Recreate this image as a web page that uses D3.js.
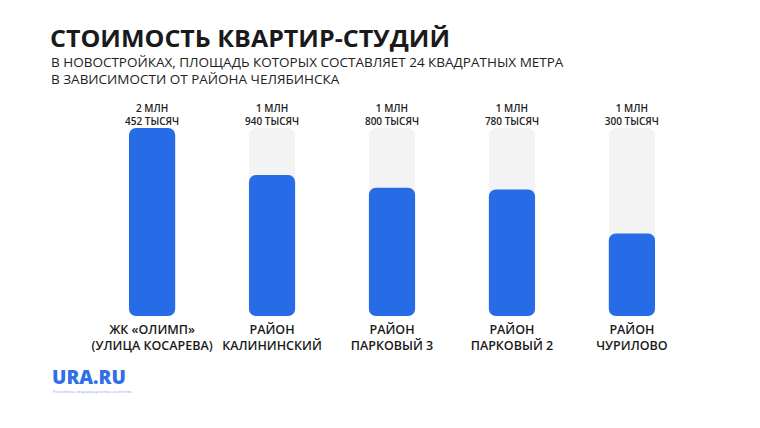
<!DOCTYPE html>
<html><head><meta charset="utf-8">
<script src="https://cdn.jsdelivr.net/npm/d3@7"></script>
<style>body{margin:0;background:#fff}svg{display:block}</style>
</head><body>
<svg id="chart" width="760" height="428"></svg>
<script>
const categories = [["ЖК «ОЛИМП»", "(УЛИЦА КОСАРЕВА)"], ["РАЙОН", "КАЛИНИНСКИЙ"], ["РАЙОН", "ПАРКОВЫЙ 3"], ["РАЙОН", "ПАРКОВЫЙ 2"], ["РАЙОН", "ЧУРИЛОВО"]];
const prices = [2452, 1940, 1800, 1780, 1300]; // тысяч рублей
const priceLabels = [["2 МЛН", "452 ТЫСЯЧ"], ["1 МЛН", "940 ТЫСЯЧ"], ["1 МЛН", "800 ТЫСЯЧ"], ["1 МЛН", "780 ТЫСЯЧ"], ["1 МЛН", "300 ТЫСЯЧ"]];

const svg = d3.select("#chart");
const font = "'Open Sans', 'Noto Sans', sans-serif";

svg.append("text").attr("x", 50).attr("y", 47).attr("font-family", font)
  .attr("font-size", 24).attr("font-weight", 700).attr("fill", "#1a1a1a")
  .attr("textLength", 400).attr("lengthAdjust", "spacingAndGlyphs")
  .text("СТОИМОСТЬ КВАРТИР-СТУДИЙ");
["В НОВОСТРОЙКАХ, ПЛОЩАДЬ КОТОРЫХ СОСТАВЛЯЕТ 24 КВАДРАТНЫХ МЕТРА", "В ЗАВИСИМОСТИ ОТ РАЙОНА ЧЕЛЯБИНСКА"].forEach((t, i) => {
  svg.append("text").attr("x", 51).attr("y", 67 + i * 17).attr("font-family", font)
    .attr("font-size", 13.5).attr("fill", "#222").text(t);
});

const x = d3.scaleBand().domain(d3.range(prices.length)).range([93, 691]).paddingInner(0.615).paddingOuter(0.3);
const y = d3.scaleLinear().domain([400, d3.max(prices)]).range([316, 128]);

const g = svg.append("g");
g.selectAll("rect.bg").data(prices).enter().append("rect")
  .attr("x", (d, i) => x(i)).attr("width", x.bandwidth())
  .attr("y", y.range()[1]).attr("height", y.range()[0] - y.range()[1])
  .attr("rx", 8).attr("fill", "#f3f3f3");
g.selectAll("rect.bar").data(prices).enter().append("rect")
  .attr("x", (d, i) => x(i)).attr("width", x.bandwidth())
  .attr("y", d => y(d)).attr("height", d => y.range()[0] - y(d))
  .attr("rx", 7).attr("fill", "#276be6");

priceLabels.forEach((lines, i) => {
  lines.forEach((t, j) => {
    g.append("text").attr("x", x(i) + x.bandwidth() / 2).attr("y", 112 + j * 12.5)
      .attr("text-anchor", "middle").attr("font-family", font).attr("font-size", 10)
      .attr("font-weight", 600).attr("fill", "#222").text(t);
  });
});
categories.forEach((lines, i) => {
  lines.forEach((t, j) => {
    g.append("text").attr("x", x(i) + x.bandwidth() / 2).attr("y", 334 + j * 16)
      .attr("text-anchor", "middle").attr("font-family", font).attr("font-size", 12.5)
      .attr("font-weight", 600).attr("fill", "#1a1a1a").text(t);
  });
});

svg.append("text").attr("x", 52).attr("y", 384).attr("font-family", font)
  .attr("font-size", 19).attr("font-weight", 800).attr("fill", "#2f6fe8").text("URA.RU");
svg.append("text").attr("x", 53).attr("y", 393).attr("font-family", font)
  .attr("font-size", 4).attr("fill", "#8aa6e8").text("Российское информационное агентство");
</script>
</body></html>
